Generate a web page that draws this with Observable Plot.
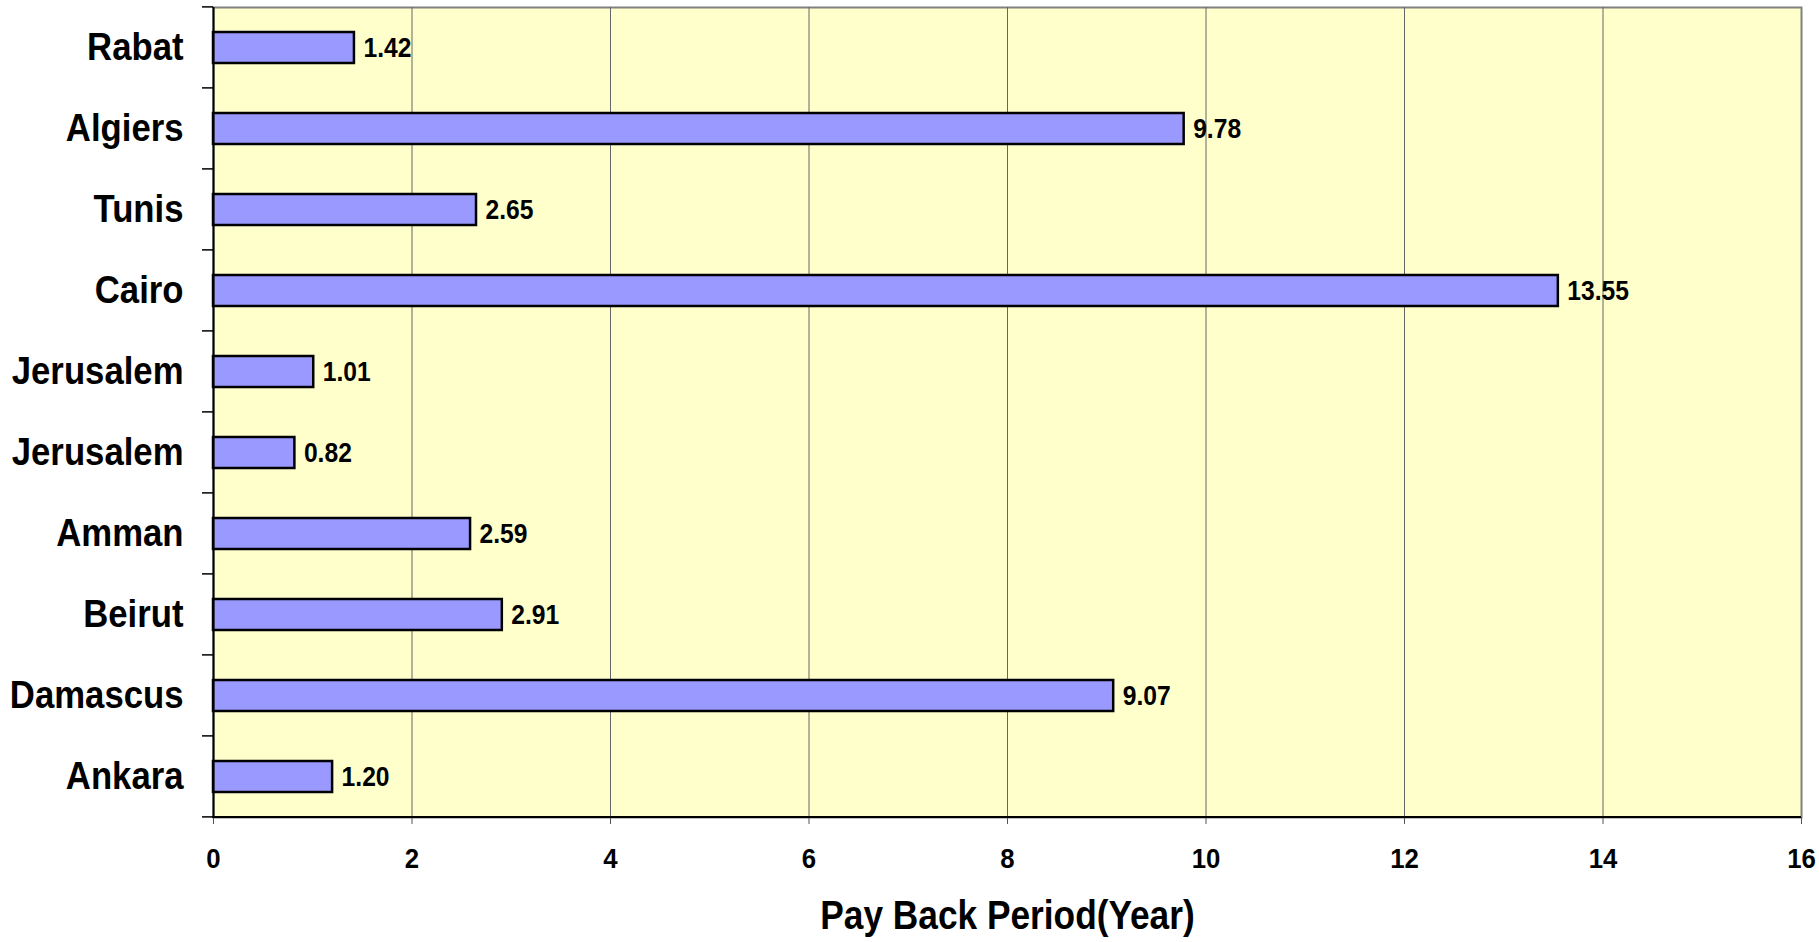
<!DOCTYPE html>
<html><head><meta charset="utf-8">
<script src="https://cdn.jsdelivr.net/npm/d3@7"></script>
<script src="https://cdn.jsdelivr.net/npm/@observablehq/plot@0.6"></script>
<style>body{margin:0;background:#fff}</style>
</head><body><div id="chart"></div>
<script>
const cities = ["Rabat","Algiers","Tunis","Cairo","Jerusalem","Jerusalem","Amman","Beirut","Damascus","Ankara"];
const payback = [1.42,9.78,2.65,13.55,1.01,0.82,2.59,2.91,9.07,1.20];
const xTicks = [0,2,4,6,8,10,12,14,16];
const xTitle = "Pay Back Period(Year)";

const data = cities.map((c,i)=>({i, city:c, value: payback[i]}));
const FONT = '"Liberation Sans",Arial,sans-serif';
const PAD_IN = 0.62;

const chart = Plot.plot({
  width: 1819, height: 942,
  marginLeft: 213, marginRight: 18, marginTop: 7, marginBottom: 125,
  style: {fontFamily: FONT, background: "#fff", color: "#000"},
  x: {domain: [0,16], ticks: xTicks},
  y: {domain: data.map(d=>d.i), paddingInner: PAD_IN, paddingOuter: PAD_IN/2},
  marks: [
    Plot.frame({fill:"#FFFFCC", stroke:"#808080", strokeWidth: 2}),
    Plot.gridX(xTicks.filter(t=>t>0 && t<16), {stroke:"#666", strokeOpacity:1, strokeWidth:1}),
    Plot.barX(data, {x: "value", y: "i", fill:"#9999FF", stroke:"#000", strokeWidth:2.5}),
    Plot.text(data, {x:"value", y:"i", text: d=>d.value.toFixed(2), textAnchor:"start", dx: 9, fontSize: 28, fontWeight:"bold", fill:"#000"}),
    Plot.ruleX([0], {stroke:"#000", strokeWidth:2}),
    Plot.axisX({ticks: xTicks, tickSize: 7, tickPadding: 24, fontSize: 28, fontWeight:"bold", label: null, stroke:"#555", fill:"#000"}),
    Plot.axisY({tickSize: 0, tickPadding: 30, fontSize: 39, fontWeight:"bold", tickFormat: i => cities[i], label: null, fill:"#000"}),
    Plot.text([xTitle], {frameAnchor:"bottom", lineAnchor:"middle", dy: 98, fontSize: 41, fontWeight:"bold", fill:"#000"})
  ]
});

// Excel-style decorations drawn from the plot's own scales
const sx = chart.scale("x"), sy = chart.scale("y");
const svg = d3.select(chart);
const x0 = sx.apply(0), x1 = sx.apply(16);
const step = sy.step;
const yTop = sy.apply(0) - step * PAD_IN / 2;
const yBottom = yTop + step * cities.length;
const g = svg.append("g");
for (let k = 0; k <= cities.length; k++) {
  const yy = yTop + k * step;
  g.append("line").attr("x1", x0 - 11).attr("x2", x0).attr("y1", yy).attr("y2", yy)
    .attr("stroke", "#000").attr("stroke-width", 1.5);
}
g.append("line").attr("x1", x0 - 1).attr("x2", x1).attr("y1", yBottom).attr("y2", yBottom)
  .attr("stroke", "#000").attr("stroke-width", 2);

document.getElementById("chart").append(chart);

// narrow the bold sans text horizontally (reference uses a condensed face)
const valueStrings = new Set(payback.map(v => v.toFixed(2)));
const tickStrings = new Set(xTicks.map(String));
const citySet = new Set(cities);
svg.selectAll("text").each(function() {
  const t = this.textContent.trim();
  let size = null, f = 1;
  if (t === xTitle) { size = 41; f = 0.86; }
  else if (citySet.has(t)) { size = 39; f = 0.89; }
  else if (valueStrings.has(t)) { size = 28; f = 0.88; }
  else if (tickStrings.has(t)) { size = 28; f = 0.92; }
  if (size == null) return;
  this.setAttribute("font-size", size);
  this.style.fontSize = size + "px";
  const w = this.getComputedTextLength();
  this.setAttribute("textLength", w * f);
  this.setAttribute("lengthAdjust", "spacingAndGlyphs");
});
</script>
</body></html>
